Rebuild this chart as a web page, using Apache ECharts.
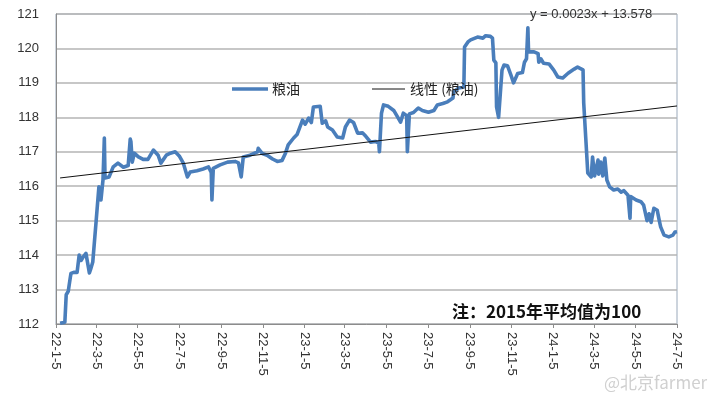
<!DOCTYPE html>
<html>
<head>
<meta charset="utf-8">
<script src="https://cdn.jsdelivr.net/npm/echarts@6/dist/echarts.min.js"></script>
<style>html,body{margin:0;padding:0;background:#fff}#c{width:725px;height:400px}</style>
</head>
<body>
<div id="c"></div>
<script>
var dates = [
'2022-01-11','2022-01-18','2022-01-20','2022-01-23','2022-01-26','2022-01-27','2022-01-31','2022-02-05','2022-02-08','2022-02-11',
'2022-02-14','2022-02-18','2022-02-23','2022-02-25','2022-02-28','2022-03-05','2022-03-09','2022-03-12','2022-03-15','2022-03-17',
'2022-03-18','2022-03-24','2022-03-30','2022-04-06','2022-04-14','2022-04-21','2022-04-24','2022-04-25','2022-04-27','2022-04-30',
'2022-05-06','2022-05-13','2022-05-20','2022-05-28','2022-06-04','2022-06-08','2022-06-16','2022-06-22','2022-06-29','2022-07-05',
'2022-07-11','2022-07-17','2022-07-21','2022-07-31','2022-08-09','2022-08-17','2022-08-21','2022-08-22','2022-08-24','2022-09-03',
'2022-09-14','2022-09-25','2022-09-30','2022-10-04','2022-10-07','2022-10-17','2022-10-28','2022-10-29','2022-11-04','2022-11-11',
'2022-11-19','2022-11-26','2022-12-03','2022-12-08','2022-12-12','2022-12-20','2022-12-25','2023-01-02','2023-01-06','2023-01-11',
'2023-01-15','2023-01-18','2023-01-28','2023-01-31','2023-02-05','2023-02-08','2023-02-15','2023-02-22','2023-03-02','2023-03-06',
'2023-03-12','2023-03-18','2023-03-24','2023-03-31','2023-04-05','2023-04-12','2023-04-19','2023-04-24','2023-04-25','2023-04-28',
'2023-05-01','2023-05-08','2023-05-16','2023-05-22','2023-05-26','2023-05-30','2023-06-04','2023-06-05','2023-06-08','2023-06-14',
'2023-06-21','2023-06-27','2023-07-06','2023-07-14','2023-07-19','2023-07-27','2023-08-03','2023-08-11','2023-08-12','2023-08-19',
'2023-08-27','2023-08-28','2023-09-02','2023-09-06','2023-09-16','2023-09-24','2023-09-28','2023-10-05','2023-10-08','2023-10-10',
'2023-10-13','2023-10-14','2023-10-17','2023-10-22','2023-10-25','2023-10-30','2023-11-04','2023-11-08','2023-11-14','2023-11-21',
'2023-11-24','2023-11-27','2023-11-29','2023-11-30','2023-12-08','2023-12-14','2023-12-15','2023-12-18','2023-12-22','2023-12-30',
'2024-01-06','2024-01-12','2024-01-19','2024-01-27','2024-02-05','2024-02-10','2024-02-18','2024-02-19','2024-02-22','2024-02-25',
'2024-03-01','2024-03-03','2024-03-06','2024-03-11','2024-03-12','2024-03-15','2024-03-18','2024-03-21','2024-03-24','2024-03-28',
'2024-04-03','2024-04-09','2024-04-14','2024-04-18','2024-04-24','2024-04-27','2024-04-28','2024-05-06','2024-05-13','2024-05-17',
'2024-05-22','2024-05-25','2024-05-28','2024-06-01','2024-06-06','2024-06-09','2024-06-11','2024-06-16','2024-06-23','2024-06-29',
'2024-07-02','2024-07-05'
];
var values = [
112.02,112.05,112.85,112.95,113.35,113.47,113.50,113.50,114.00,113.85,
113.95,114.05,113.48,113.60,113.80,115.00,115.98,115.60,116.18,117.40,
116.24,116.27,116.56,116.67,116.55,116.60,117.37,117.30,116.70,116.96,
116.85,116.78,116.78,117.05,116.90,116.67,116.90,116.96,117.00,116.88,
116.67,116.27,116.41,116.45,116.50,116.56,116.40,115.60,116.52,116.62,
116.70,116.72,116.68,116.27,116.85,116.90,117.00,117.10,116.95,116.90,
116.79,116.72,116.75,116.96,117.20,117.40,117.50,117.92,117.80,117.98,
117.85,118.30,118.32,117.83,117.90,117.72,117.63,117.43,117.40,117.72,
117.92,117.85,117.54,117.55,117.45,117.28,117.30,117.25,117.00,118.12,
118.36,118.32,118.20,118.00,117.86,118.12,118.05,117.00,118.10,118.14,
118.27,118.20,118.15,118.20,118.36,118.40,118.45,118.56,118.74,118.85,
118.88,120.04,120.19,120.25,120.33,120.30,120.37,120.35,120.30,119.66,
119.58,118.30,118.00,119.37,119.52,119.50,119.23,119.00,119.27,119.30,
119.60,119.70,120.60,119.90,119.90,119.85,119.60,119.70,119.57,119.55,
119.37,119.17,119.14,119.28,119.40,119.46,119.38,118.42,117.40,116.38,
116.27,116.85,116.30,116.76,116.35,116.70,116.30,116.82,116.18,115.98,
115.89,115.92,115.83,115.87,115.74,115.07,115.70,115.60,115.55,115.45,
115.00,115.20,114.95,115.36,115.30,115.00,114.82,114.58,114.53,114.58,
114.67,114.68
];
var trendDates = ['2022-01-11','2024-07-05'];
var trendValues = [116.24, 118.33];
var xLabelDates = ['2022-01-05','2022-03-05','2022-05-05','2022-07-05','2022-09-05','2022-11-05',
  '2023-01-05','2023-03-05','2023-05-05','2023-07-05','2023-09-05','2023-11-05',
  '2024-01-05','2024-03-05','2024-05-05','2024-07-05'];
var seriesName = '粮油';
var trendName = '线性 (粮油)';
var equationText = 'y = 0.0023x + 13.578';
var noteText = '注：2015年平均值为100';
var watermarkText = '@北京farmer';

function toTime(s){var p=s.split('-');return new Date(+p[0],+p[1]-1,+p[2]).getTime();}
function fmt(v){var d=new Date(v);return (d.getFullYear()%100)+'-'+(d.getMonth()+1)+'-'+d.getDate();}

var tickVals = xLabelDates.map(toTime);
var mainData = dates.map(function(d,i){return [toTime(d), values[i]];});
var trendData = trendDates.map(function(d,i){return [toTime(d), trendValues[i]];});

var blue = '#4a7ebb';
var chart = echarts.init(document.getElementById('c'));
chart.setOption({
  animation:false,
  grid:{left:56,right:48,top:14,bottom:76,show:true,borderColor:'#9aa9bb',borderWidth:1},
  xAxis:{
    type:'value', min:tickVals[0], max:tickVals[tickVals.length-1],
    axisLine:{lineStyle:{color:'#8c8c8c',width:1}},
    axisTick:{show:true,customValues:tickVals,length:4,lineStyle:{color:'#8c8c8c'}},
    axisLabel:{customValues:tickVals,rotate:-90,formatter:fmt,fontSize:13,color:'#333',margin:8,fontFamily:'Liberation Sans'},
    splitLine:{show:false}
  },
  yAxis:{
    type:'value', min:112, max:121, interval:1,
    axisLine:{show:true,lineStyle:{color:'#8c8c8c'}},
    axisTick:{show:false},
    axisLabel:{fontSize:13,color:'#333',margin:17,fontFamily:'Liberation Sans'},
    splitLine:{lineStyle:{color:'#b5b5b5',width:1.5}}
  },
  series:[
    {name:seriesName,type:'line',data:mainData,symbol:'none',
     lineStyle:{color:blue,width:3.6,join:'round'},itemStyle:{color:blue},z:3},
    {name:trendName,type:'line',data:trendData,symbol:'none',
     lineStyle:{color:'#111',width:1},itemStyle:{color:'#111'},z:4}
  ],
  graphic:[
    {type:'line',shape:{x1:232,y1:89,x2:268,y2:89},style:{stroke:blue,lineWidth:3.6},z:10},
    {type:'text',x:272,y:89,style:{text:seriesName,fontSize:14,fill:'#222',fontFamily:'Noto Sans CJK SC',verticalAlign:'middle'},z:10},
    {type:'line',shape:{x1:372,y1:89,x2:405,y2:89},style:{stroke:'#111',lineWidth:1},z:10},
    {type:'text',x:410,y:89,style:{text:trendName,fontSize:14,fill:'#222',fontFamily:'Noto Sans CJK SC',verticalAlign:'middle'},z:10},
    {type:'text',x:530,y:14,style:{text:equationText,fontSize:13,fill:'#333',fontFamily:'Liberation Sans',verticalAlign:'middle'},z:10},
    {type:'text',x:452,y:312,style:{text:noteText,fontSize:17,fontWeight:'bold',fill:'#111',fontFamily:'Noto Sans CJK SC',verticalAlign:'middle'},z:10},
    {type:'text',x:604,y:383,style:{text:watermarkText,fontSize:17,fill:'#d0d0d0',fontFamily:'Noto Sans CJK SC',verticalAlign:'middle'},z:10}
  ]
});
</script>
</body>
</html>
